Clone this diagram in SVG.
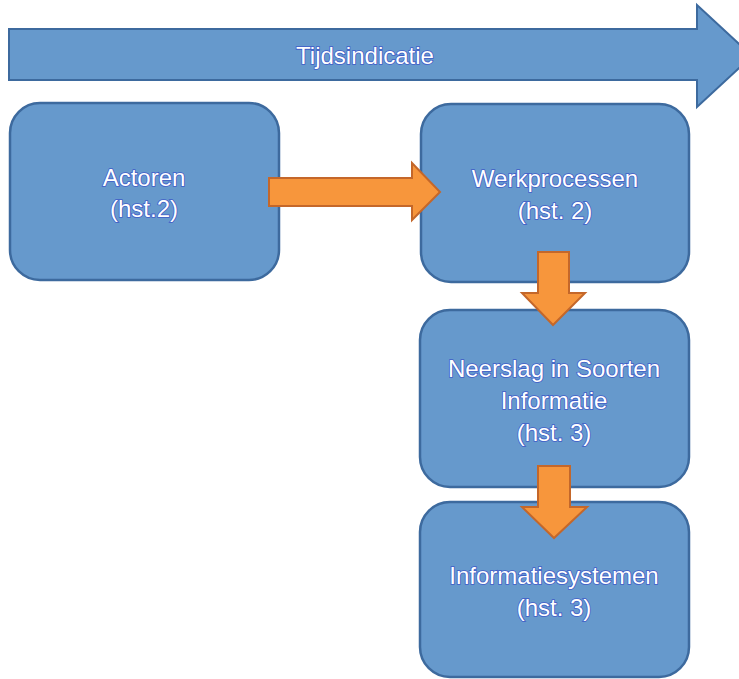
<svg xmlns="http://www.w3.org/2000/svg" width="739" height="679" viewBox="0 0 739 679">
<style>
.box{fill:#6699cc;stroke:#3d6a9e;stroke-width:2.5}
.time{fill:#6699cc;stroke:#3d6a9e;stroke-width:2}
.arr{fill:#f7963c;stroke:#c4672a;stroke-width:2;stroke-linejoin:miter}
text{font-family:"Liberation Sans",Arial,sans-serif;font-size:24px;fill:#ffffff;stroke:#3f5cc8;stroke-width:1.6;paint-order:stroke;text-anchor:middle;dominant-baseline:central}
</style>
<rect width="739" height="679" fill="#ffffff"/>
<g id="tijdsindicatie">
<path class="time" d="M9,29 L697,29 L697,5 L752,56 L697,107 L697,80 L9,80 Z"/>
<text x="365" y="55">Tijdsindicatie</text>
</g>
<g id="actoren">
<rect class="box" x="10" y="103" width="269" height="177" rx="30"/>
<text x="144" y="177">Actoren</text>
<text x="144" y="208">(hst.2)</text>
</g>
<g id="werkprocessen">
<rect class="box" x="421" y="104" width="268" height="178" rx="30"/>
<text x="555" y="178">Werkprocessen</text>
<text x="555" y="210">(hst. 2)</text>
</g>
<g id="neerslag">
<rect class="box" x="420" y="310" width="269" height="177" rx="30"/>
<text x="554" y="368">Neerslag in Soorten</text>
<text x="554" y="400">Informatie</text>
<text x="554" y="432">(hst. 3)</text>
</g>
<g id="informatiesystemen">
<rect class="box" x="420" y="502" width="269" height="175" rx="30"/>
<text x="554" y="575">Informatiesystemen</text>
<text x="554" y="607">(hst. 3)</text>
</g>
<g id="connectors">
<path class="arr" d="M269,178 L412,178 L412,163 L440,192 L412,220 L412,206 L269,206 Z"/>
<path class="arr" d="M538,252 L569,252 L569,293 L585,293 L553,325 L522,293 L538,293 Z"/>
<path class="arr" d="M538,466 L570,466 L570,507 L587,507 L554,538 L522,507 L538,507 Z"/>
</g>
</svg>
